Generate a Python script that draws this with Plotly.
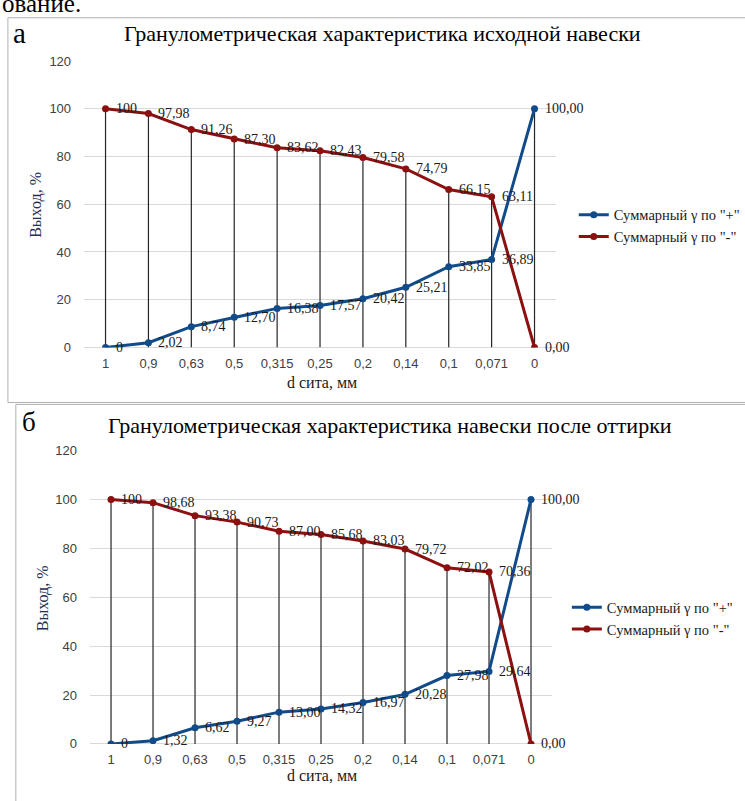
import plotly.graph_objects as go

categories = ["1", "0,9", "0,63", "0,5", "0,315", "0,25", "0,2", "0,14", "0,1", "0,071", "0"]

plus_a = [0, 2.02, 8.74, 12.70, 16.38, 17.57, 20.42, 25.21, 33.85, 36.89, 100.00]
minus_a = [100, 97.98, 91.26, 87.30, 83.62, 82.43, 79.58, 74.79, 66.15, 63.11, 0.00]

plus_b = [0, 1.32, 6.62, 9.27, 13.00, 14.32, 16.97, 20.28, 27.98, 29.64, 100.00]
minus_b = [100, 98.68, 93.38, 90.73, 87.00, 85.68, 83.03, 79.72, 72.02, 70.36, 0.00]

title_a = "Гранулометрическая характеристика исходной навески"
title_b = "Гранулометрическая характеристика навески после оттирки"
name_plus = 'Суммарный γ по "+"'
name_minus = 'Суммарный γ по "-"'
x_title = "d сита, мм"
y_title = "Выход, %"

W, H = 745, 801
BLUE = "#124B8A"
RED = "#8C1010"
SERIF = "Liberation Serif"
SANS = "Liberation Sans"


def fmt(v, i):
    if i == 0:
        return str(int(v))
    return f"{v:.2f}".replace(".", ",")


def px(x):
    return x / W


def py(y):
    return 1 - y / H


fig = go.Figure()
annotations = []


def add_chart(plus, minus, xa, ya, legend):
    xs, ys = [], []
    for c, p, m in zip(categories, plus, minus):
        xs += [c, c, None]
        ys += [max(p, m), 0, None]
    fig.add_trace(go.Scatter(x=xs, y=ys, mode="lines", xaxis=xa, yaxis=ya,
                             line=dict(color="#262626", width=1.2),
                             showlegend=False, hoverinfo="skip"))
    fig.add_trace(go.Scatter(x=categories, y=plus, mode="lines+markers", name=name_plus,
                             xaxis=xa, yaxis=ya, legend=legend,
                             line=dict(color=BLUE, width=3),
                             marker=dict(color=BLUE, size=7)))
    fig.add_trace(go.Scatter(x=categories, y=minus, mode="lines+markers", name=name_minus,
                             xaxis=xa, yaxis=ya, legend=legend,
                             line=dict(color=RED, width=3),
                             marker=dict(color=RED, size=7)))
    for series in (plus, minus):
        for i, v in enumerate(series):
            annotations.append(dict(x=i, y=v, xref=xa, yref=ya, text=fmt(v, i),
                                    showarrow=False, xanchor="left", yanchor="middle",
                                    xshift=8, font=dict(family=SERIF, size=14, color="#1a1a1a")))


add_chart(plus_a, minus_a, "x", "y", "legend")
add_chart(plus_b, minus_b, "x2", "y2", "legend2")

axis_common = dict(showgrid=False, zeroline=False, showline=False, type="category",
                   range=[-0.5, 10.5], ticks="", ticklabelstandoff=6,
                   tickfont=dict(family=SANS, size=13, color="#404040"))
yaxis_common = dict(range=[0, 120], dtick=20, showgrid=True, gridcolor="#d9d9d9", gridwidth=1,
                    zeroline=True, zerolinecolor="#d9d9d9", zerolinewidth=1, showline=False,
                    ticks="", ticklabelstandoff=12,
                    tickfont=dict(family=SANS, size=13, color="#404040"))

fig.update_layout(
    width=W, height=H, margin=dict(l=0, r=0, t=0, b=0),
    paper_bgcolor="white", plot_bgcolor="white",
    xaxis=dict(domain=[px(85), px(562)], anchor="y", **axis_common),
    yaxis=dict(domain=[py(347), py(55)], anchor="x", **yaxis_common),
    xaxis2=dict(domain=[px(91), px(558)], anchor="y2", **axis_common),
    yaxis2=dict(domain=[py(751), py(452)], anchor="x2", **yaxis_common),
    legend=dict(x=px(580), y=py(223), xanchor="left", yanchor="middle",
                font=dict(family=SERIF, size=14.5, color="#1a1a1a"), bgcolor="rgba(0,0,0,0)",
                tracegroupgap=0),
    legend2=dict(x=px(573), y=py(623), xanchor="left", yanchor="middle",
                 font=dict(family=SERIF, size=14.5, color="#1a1a1a"), bgcolor="rgba(0,0,0,0)",
                 tracegroupgap=0),
    showlegend=True,
)

# Frames
fig.add_shape(type="rect", xref="paper", yref="paper", x0=px(8), x1=px(760), y0=py(403), y1=py(11),
              line=dict(color="#b0b0b0", width=1), fillcolor="rgba(0,0,0,0)", layer="below")
fig.add_shape(type="rect", xref="paper", yref="paper", x0=px(16), x1=px(760), y0=py(820), y1=py(405),
              line=dict(color="#b0b0b0", width=1), fillcolor="rgba(0,0,0,0)", layer="below")

texts = [
    dict(x=px(0), y=py(12), text="ование.", xanchor="left", yanchor="bottom",
         font=dict(family=SERIF, size=25, color="black")),
    dict(x=px(11), y=py(27), text="а", xanchor="left", yanchor="middle",
         font=dict(family=SERIF, size=29, color="black")),
    dict(x=px(123), y=py(27), text=title_a, xanchor="left", yanchor="middle",
         font=dict(family=SERIF, size=22, color="black")),
    dict(x=px(20), y=py(423), text="б", xanchor="left", yanchor="middle",
         font=dict(family=SERIF, size=27, color="black")),
    dict(x=px(107), y=py(426), text=title_b, xanchor="left", yanchor="middle",
         font=dict(family=SERIF, size=22, color="black")),
    dict(x=px(325), y=py(383), text=x_title, xanchor="center", yanchor="middle",
         font=dict(family=SERIF, size=16, color="#1a1a1a")),
    dict(x=px(325), y=py(783), text=x_title, xanchor="center", yanchor="middle",
         font=dict(family=SERIF, size=16, color="#1a1a1a")),
    dict(x=px(37), y=py(202), text=y_title, xanchor="center", yanchor="middle", textangle=-90,
         font=dict(family=SERIF, size=16, color="#1f3050")),
    dict(x=px(43), y=py(603), text=y_title, xanchor="center", yanchor="middle", textangle=-90,
         font=dict(family=SERIF, size=16, color="#1f3050")),
]
for t in texts:
    t.update(xref="paper", yref="paper", showarrow=False)
    annotations.append(t)

fig.update_layout(annotations=annotations)
fig.write_html("out.html", config={"displayModeBar": False},
               post_script="document.body.style.margin='0';document.body.style.overflow='hidden';")
